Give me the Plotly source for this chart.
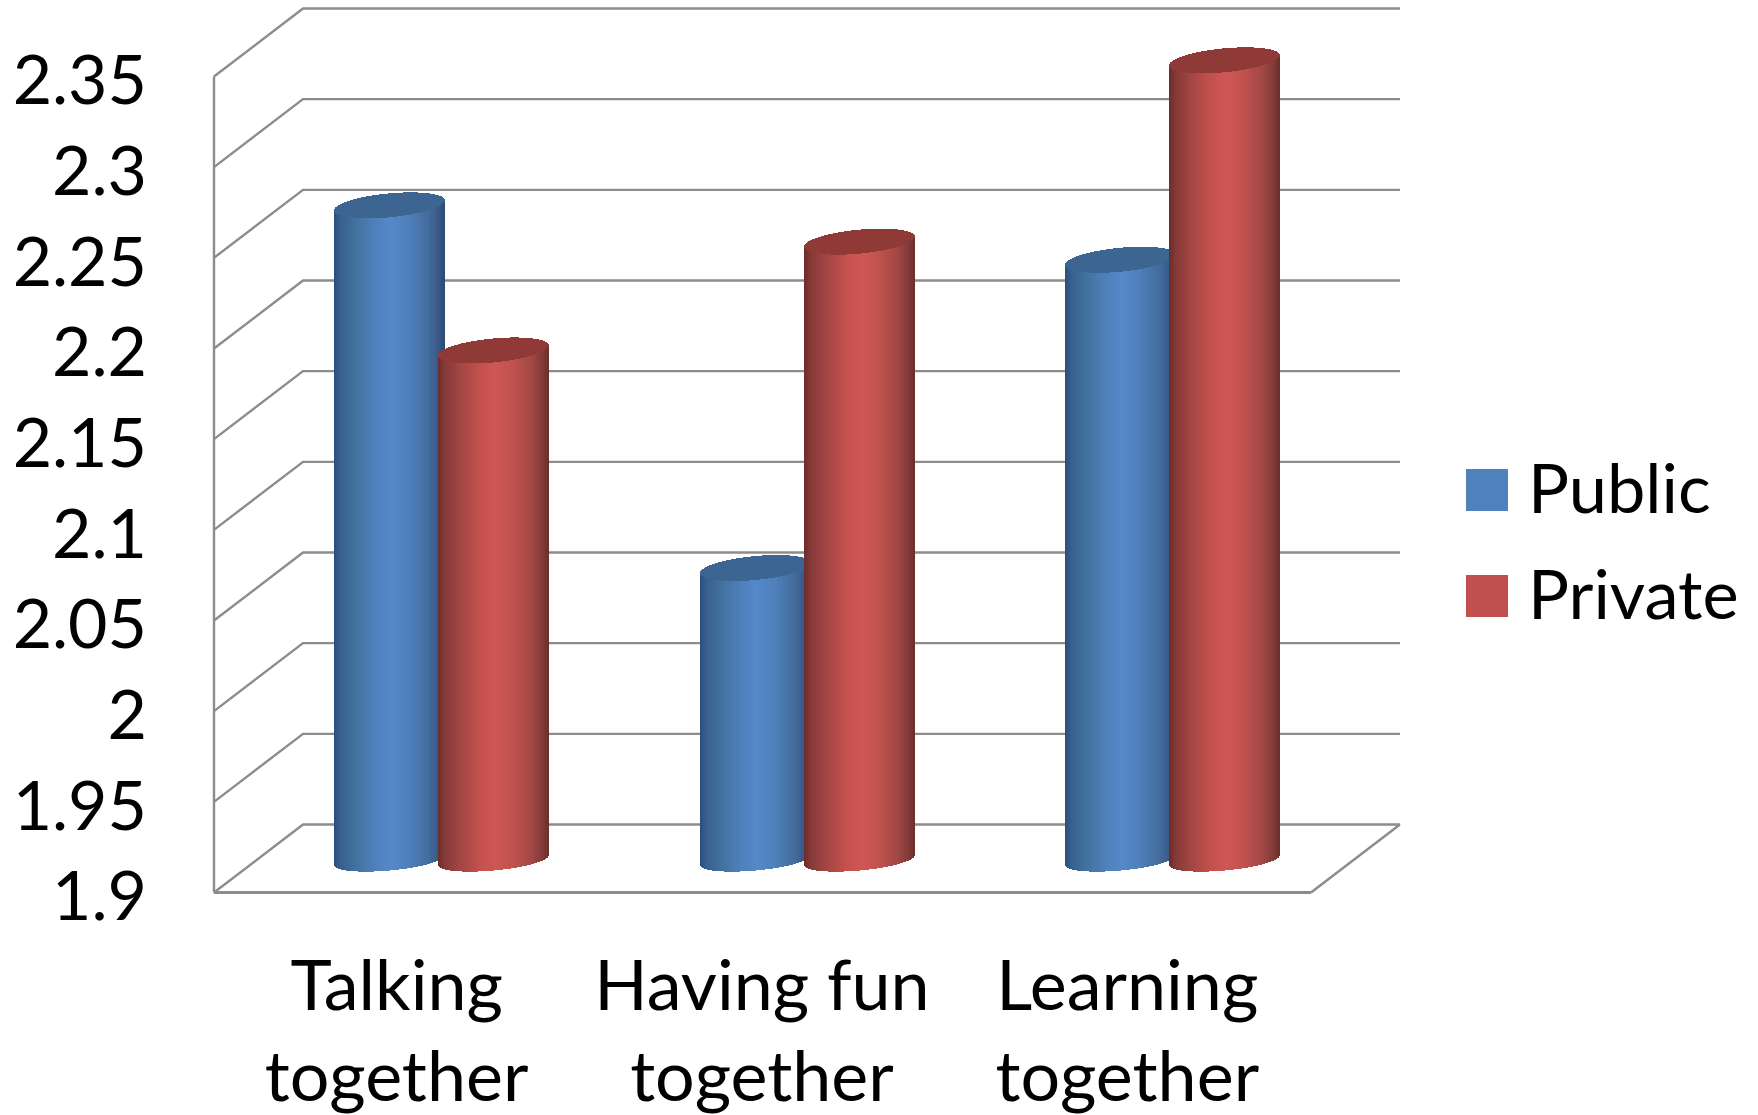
import numpy as np
import plotly.graph_objects as go

categories = ["Talking<br>together", "Having fun<br>together", "Learning<br>together"]
public = [2.261, 2.061, 2.231]
private = [2.181, 2.241, 2.341]
y_ticks = [1.9, 1.95, 2.0, 2.05, 2.1, 2.15, 2.2, 2.25, 2.3, 2.35]
y_labels = ["1.9", "1.95", "2", "2.05", "2.1", "2.15", "2.2", "2.25", "2.3", "2.35"]

W, H = 1758, 1115
FONT = "Lato"
# scale of the chart: pixels per unit on each axis
PX_PER_CAT = 365.33
PX_PER_VAL = 816 / 0.45
FRONT_LEFT, FRONT_BASE = 214, 892.5    # pixel of x=-0.5, y=1.9 on the front plane
DEPTH_X, DEPTH_Y = 89, 68              # full depth of the box, pixels
M_L, M_B = 196, 208                    # plot area margins
dx = lambda px: px / PX_PER_CAT
dy = lambda px: px / PX_PER_VAL
XMIN = -0.5 - dx(FRONT_LEFT - M_L)
XMAX = XMIN + dx(W - M_L)
YMIN = 1.9 - dy(H - M_B - FRONT_BASE)
YMAX = YMIN + dy(H - M_B)
XR = -0.5 + dx(1311 - FRONT_LEFT)      # right end of the front floor edge

BODY_W = 110                           # cylinder diameter, px
OFFSETS = {"pub": -6.7, "pri": 97.3}   # cylinder centre relative to the category centre, px
CAP_B, BOT_B, TILT = 12.0, 10.5, 5.0   # ellipse half height and tilt, px
BASE_LIFT = 32.5                       # cylinder base sits this far up from the front floor, px

BLUE_STOPS = [(0, "#2c4f7c"), (.06, "#38608f"), (.2, "#44729f"), (.38, "#4f81bd"), (.52, "#5689cb"),
              (.68, "#4f80bb"), (.85, "#446e9e"), (.95, "#38598a"), (1, "#2d4c72")]
RED_STOPS = [(0, "#6b2c2a"), (.06, "#853a38"), (.2, "#a34644"), (.38, "#c4514e"), (.52, "#cf5855"),
             (.68, "#c2524f"), (.85, "#a14845"), (.95, "#823b39"), (1, "#6d302e")]


def hexrgb(h):
    return np.array([int(h[i:i + 2], 16) for i in (1, 3, 5)], float)


def ramp(stops, t):
    ts = [s[0] for s in stops]
    cs = np.array([hexrgb(s[1]) for s in stops])
    return "rgb(%d,%d,%d)" % tuple(np.interp(t, ts, cs[:, i]) for i in range(3))


def cylinder_traces(values, offset_px, stops, cap_color):
    """Slice each cylinder into 1px columns: body column + cap column."""
    xs, bases, heights, cols = [], [], [], []
    n = BODY_W
    for i, v in enumerate(values):
        centre = i + dx(offset_px)
        top = v + dy(BASE_LIFT)
        bottom = 1.9 + dy(BASE_LIFT)
        for k in range(n):
            t = (k + .5) / n
            u = 2 * t - 1
            arc = np.sqrt(max(0, 1 - u * u))
            x = centre + dx(u * n / 2)
            y0 = bottom + dy(TILT * u) - dy(BOT_B * arc)
            y1 = top + dy(TILT * u) - dy(CAP_B * arc)
            y2 = top + dy(TILT * u) + dy(CAP_B * arc)
            xs += [x, x]
            bases += [y0, y1]
            heights += [y1 - y0, y2 - y1]
            cols += [ramp(stops, t), cap_color]
    return go.Bar(x=xs, y=heights, base=bases, width=dx(1.35), marker=dict(color=cols, line_width=0),
                  showlegend=False, hoverinfo="skip")


def legend_trace(name, values, offset_px, color, group):
    # solid core of the cylinder, it carries the series values and the legend entry
    return go.Bar(x=[i + dx(offset_px) for i in range(len(values))], y=[v - 1.9 for v in values],
                  base=[1.9 + dy(BASE_LIFT)] * len(values), width=dx(40), name=name, legendgroup=group,
                  marker=dict(color=color, line_width=0), hoverinfo="name+y")


grid = []
line = dict(color="#8c8c8c", width=2.4)
for v in y_ticks:
    # side wall then back wall at each tick
    grid.append(dict(type="path", layer="below", line=line, xref="x", yref="y",
                     path=f"M{-0.5},{v} L{-0.5 + dx(DEPTH_X)},{v + dy(DEPTH_Y)} L{XR + dx(DEPTH_X)},{v + dy(DEPTH_Y)}"))
# left axis, front floor edge, right floor edge
grid.append(dict(type="line", layer="below", line=line, x0=-0.5, x1=-0.5, y0=1.9, y1=y_ticks[-1]))
grid.append(dict(type="line", layer="below", line=dict(color="#8c8c8c", width=3), x0=-0.5, x1=XR, y0=1.9, y1=1.9))
grid.append(dict(type="line", layer="below", line=line, x0=XR, x1=XR + dx(DEPTH_X), y0=1.9, y1=1.9 + dy(DEPTH_Y)))


def px_frac_x(px):
    return (px - M_L) / (W - M_L)


def px_frac_y(px):
    return 1 - px / (H - M_B)


# legend keys are larger than plotly's own swatch: a square behind each
for y0, y1, c in [(469, 511, "#4f81bd"), (575, 617, "#c0504d")]:
    grid.append(dict(type="rect", xref="paper", yref="paper", line_width=0, fillcolor=c, layer="above",
                     x0=px_frac_x(1466), x1=px_frac_x(1508), y0=px_frac_y(y1), y1=px_frac_y(y0)))

fig = go.Figure()
fig.add_trace(legend_trace("Public", public, OFFSETS["pub"], "#4f81bd", "a"))
fig.add_trace(legend_trace("Private", private, OFFSETS["pri"], "#c0504d", "b"))
fig.add_trace(cylinder_traces(public, OFFSETS["pub"], BLUE_STOPS, "#3d6591"))
fig.add_trace(cylinder_traces(private, OFFSETS["pri"], RED_STOPS, "#8f3a37"))

fig.update_layout(
    width=W, height=H, autosize=False, barmode="overlay", bargap=0,
    margin=dict(l=M_L, r=0, t=0, b=M_B, pad=0),
    paper_bgcolor="white", plot_bgcolor="white",
    font=dict(family=FONT, size=68, color="#000000"),
    xaxis=dict(range=[XMIN, XMAX], tickmode="array", tickvals=[0, 1, 2], ticktext=categories,
               showgrid=False, zeroline=False, showline=False, ticks="", automargin=False,
               tickfont=dict(family=FONT, size=70), ticklabelstandoff=32, tickangle=0),
    yaxis=dict(range=[YMIN, YMAX], tickmode="array", tickvals=y_ticks, ticktext=y_labels,
               showgrid=False, zeroline=False, showline=False, ticks="", automargin=False,
               tickfont=dict(family=FONT, size=68), ticklabelstandoff=48, ticklabelshift=4),
    legend=dict(x=px_frac_x(1462), xanchor="left", y=px_frac_y(435), yanchor="top", itemwidth=56,
                traceorder="grouped", tracegroupgap=14, bgcolor="rgba(0,0,0,0)",
                font=dict(family=FONT, size=68.5), itemclick=False, itemdoubleclick=False),
    shapes=grid,
)
fig.write_html("out.html", post_script="document.body.style.margin='0';", config={"displayModeBar": False})
